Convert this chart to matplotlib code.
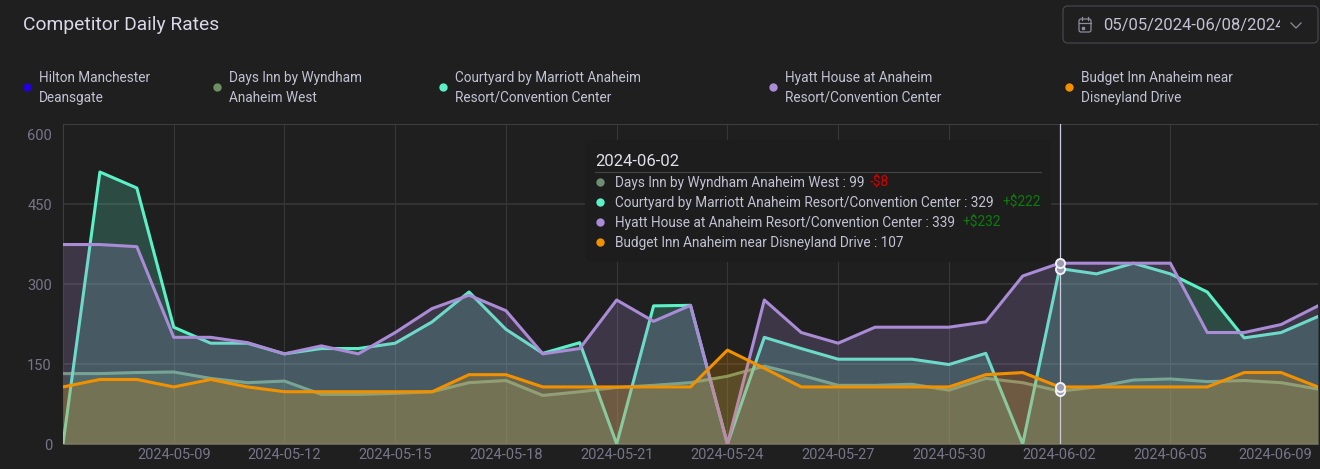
import matplotlib.dates as mdates
import matplotlib.pyplot as plt
import pandas as pd
from matplotlib.patches import FancyBboxPatch, Rectangle
from matplotlib.transforms import ScaledTranslation

plt.rcParams["font.family"] = "Roboto"

BACKGROUND = "#1f1f1f"
TEXT_COLOR = "#c2c2d4"
TICK_COLOR = "#77758a"
GRID_COLOR = "#363636"

DATES = pd.date_range("2024-05-06", "2024-06-09")
TICK_DATES = pd.to_datetime(
    [
        "2024-05-09",
        "2024-05-12",
        "2024-05-15",
        "2024-05-18",
        "2024-05-21",
        "2024-05-24",
        "2024-05-27",
        "2024-05-30",
        "2024-06-02",
        "2024-06-05",
        "2024-06-09",
    ]
)
Y_TICKS = [0, 150, 300, 450, 600]

DAYS_INN = [
    132, 132, 134, 135, 123, 115, 118, 93, 93, 95, 98, 115, 119, 91, 98, 106, 110, 115,
    127, 146, 129, 110, 110, 112, 101, 123, 115, 99, 107, 120, 122, 117, 119, 115, 103,
]
COURTYARD = [
    0, 510, 480, 219, 189, 189, 169, 179, 179, 189, 229, 285, 215, 170, 190, 0, 259, 260,
    0, 200, 179, 159, 159, 159, 149, 170, 0, 329, 319, 339, 319, 285, 199, 209, 239,
]
HYATT = [
    374, 374, 370, 200, 200, 190, 169, 184, 169, 209, 254, 279, 250, 169, 179, 270, 230, 260,
    0, 270, 209, 189, 219, 219, 219, 229, 315, 339, 339, 339, 339, 209, 209, 224, 259,
]
BUDGET = [
    107, 121, 121, 107, 121, 107, 98, 98, 98, 98, 98, 130, 130, 107, 107, 107, 107, 107,
    176, 142, 107, 107, 107, 107, 107, 130, 134, 107, 107, 107, 107, 107, 134, 134, 107,
]

SERIES = [
    ("Days Inn", DAYS_INN, "#6f9a72"),
    ("Courtyard", COURTYARD, "#5cf0c6"),
    ("Hyatt", HYATT, "#a98bd6"),
    ("Budget", BUDGET, "#f29100"),
]

LEGEND_ITEMS = [
    ("Hilton Manchester\nDeansgate", "#2200dd", 27),
    ("Days Inn by Wyndham\nAnaheim West", "#6f8f62", 217),
    ("Courtyard by Marriott Anaheim\nResort/Convention Center", "#5cf0c6", 443),
    ("Hyatt House at Anaheim\nResort/Convention Center", "#a98bd6", 773),
    ("Budget Inn Anaheim near\nDisneyland Drive", "#f29100", 1069),
]

TOOLTIP_DATE = "2024-06-02"
TOOLTIP_ROWS = [
    ("Days Inn by Wyndham Anaheim West : 99", "#6f8f72", "-$8", "#d40000", 870),
    ("Courtyard by Marriott Anaheim Resort/Convention Center : 329", "#5cf0c6", "+$222", "#0a7d0a", 1002),
    ("Hyatt House at Anaheim Resort/Convention Center : 339", "#a98bd6", "+$232", "#0a7d0a", 962),
    ("Budget Inn Anaheim near Disneyland Drive : 107", "#f29100", "", "#0a7d0a", 0),
]


def draw_chart(fig):
    axis = fig.add_axes([63 / 1320, 1 - 444 / 469, 1255 / 1320, 320 / 469])
    axis.set_facecolor(BACKGROUND)

    for index, (name, values, color) in enumerate(SERIES):
        axis.plot(DATES, values, color=color, linewidth=2.2, zorder=3 + index * 2)
        axis.fill_between(DATES, values, 0, color=color, alpha=0.22, linewidth=0, zorder=4 + index * 2)

    axis.set_xlim(DATES[0], DATES[-1])
    axis.set_ylim(0, 600)
    axis.set_xticks(TICK_DATES)
    axis.xaxis.set_major_formatter(mdates.DateFormatter("%Y-%m-%d"))
    axis.set_yticks(Y_TICKS)
    axis.grid(True, axis="x", color=GRID_COLOR, linewidth=0.8)
    axis.grid(True, axis="y", color=GRID_COLOR, linewidth=1.2)
    axis.tick_params(length=0, labelcolor=TICK_COLOR, labelsize=10.5)
    axis.tick_params(axis="x", pad=3)
    axis.tick_params(axis="y", pad=8)

    for side in ["top", "left", "bottom"]:
        axis.spines[side].set_color("#3d3d3d")
    axis.spines["right"].set_visible(False)

    # first and last labels sit inside the plot area
    last_label = axis.get_xticklabels()[-1]
    last_label.set_ha("right")
    last_label.set_transform(last_label.get_transform() + ScaledTranslation(-6 / 100, 0, fig.dpi_scale_trans))
    top_label = axis.get_yticklabels()[-1]
    top_label.set_transform(top_label.get_transform() + ScaledTranslation(0, -11 / 100, fig.dpi_scale_trans))

    cursor = pd.Timestamp(TOOLTIP_DATE)
    position = DATES.get_loc(cursor)
    axis.axvline(cursor, color="#c9c9db", linewidth=0.9, zorder=20)
    for name, values, color in SERIES:
        axis.plot(
            [cursor],
            [values[position]],
            marker="o",
            markersize=6.5,
            markerfacecolor="#9a9ab0",
            markeredgecolor="#f2f2f6",
            markeredgewidth=1.4,
            zorder=21,
            clip_on=False,
        )
    return axis


def draw_header(overlay):
    overlay.text(23, 24.5, "Competitor Daily Rates", color="#d8d8e8", fontsize=13.9, va="center")

    box = FancyBboxPatch(
        (1063, 6),
        255,
        37,
        boxstyle="round,pad=0,rounding_size=5",
        facecolor=BACKGROUND,
        edgecolor="#45454d",
        linewidth=0.9,
    )
    overlay.add_patch(box)
    overlay.text(1103, 25.5, "05/05/2024-06/08/2024", color=TEXT_COLOR, fontsize=12, va="center")
    overlay.add_patch(Rectangle((1279.5, 10), 30, 30, facecolor=BACKGROUND, edgecolor="none", zorder=3))

    # calendar icon and chevron
    overlay.add_patch(
        FancyBboxPatch(
            (1079, 19),
            12,
            13,
            boxstyle="round,pad=0,rounding_size=2",
            facecolor="none",
            edgecolor="#8d8d9d",
            linewidth=0.9,
        )
    )
    overlay.plot([1079, 1091], [23, 23], color="#8d8d9d", linewidth=0.9)
    overlay.plot([1082, 1082], [17, 20], color="#8d8d9d", linewidth=0.9)
    overlay.plot([1088, 1088], [17, 20], color="#8d8d9d", linewidth=0.9)
    overlay.plot([1083], [28], marker="s", markersize=1.5, color="#8d8d9d")
    overlay.plot([1291, 1296, 1301], [23, 28, 23], color="#8d8d9d", linewidth=0.9, zorder=4)


def draw_legend(overlay):
    for label, color, x_pos in LEGEND_ITEMS:
        overlay.plot([x_pos], [87], marker="o", markersize=6, color=color, markeredgewidth=0)
        line_one, line_two = label.split("\n")
        overlay.text(x_pos + 12, 78, line_one, color=TEXT_COLOR, fontsize=9.8, va="center")
        overlay.text(x_pos + 12, 98, line_two, color=TEXT_COLOR, fontsize=9.8, va="center")


def draw_tooltip(overlay):
    overlay.add_patch(Rectangle((585, 140), 466, 122, facecolor="#1d1d1d", edgecolor="none", zorder=2))
    overlay.text(595, 161.5, TOOLTIP_DATE, color="#e0e0ea", fontsize=12, va="center", zorder=3)
    overlay.plot([595, 1041], [172.5, 172.5], color="#444444", linewidth=0.8, zorder=3)

    for row, (label, color, delta, delta_color, delta_x) in enumerate(TOOLTIP_ROWS):
        y_pos = 182 + row * 20
        overlay.plot([600], [y_pos], marker="o", markersize=6, color=color, markeredgewidth=0, zorder=3)
        overlay.text(615, y_pos + 1, label, color=TEXT_COLOR, fontsize=9.8, va="center", zorder=3)
        if delta:
            overlay.text(delta_x, y_pos + 1, delta, color=delta_color, fontsize=9.8, va="center", zorder=3)


def main():
    fig = plt.figure(figsize=(13.2, 4.69), dpi=100, facecolor=BACKGROUND)
    draw_chart(fig)

    overlay = fig.add_axes([0, 0, 1, 1])
    overlay.set_xlim(0, 1320)
    overlay.set_ylim(469, 0)
    overlay.axis("off")

    draw_header(overlay)
    draw_legend(overlay)
    draw_tooltip(overlay)

    fig.savefig("out.png", dpi=100, facecolor=BACKGROUND)
    plt.close(fig)


if __name__ == "__main__":
    main()
